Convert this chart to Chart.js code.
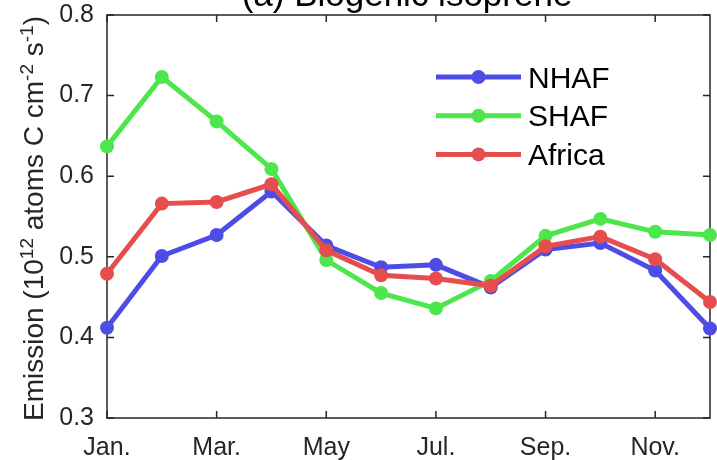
<!DOCTYPE html>
<html>
<head>
<meta charset="utf-8">
<script src="https://cdn.jsdelivr.net/npm/chart.js@4"></script>
<style>
  html, body { margin: 0; padding: 0; background: #fff; }
  #wrap { width: 717px; height: 460px; position: relative; }
</style>
</head>
<body>
<div id="wrap"><canvas id="c" width="717" height="460"></canvas></div>
<script>
const months = ['Jan.','Feb.','Mar.','Apr.','May','Jun.','Jul.','Aug.','Sep.','Oct.','Nov.','Dec.'];
const nhaf   = [0.412,0.501,0.527,0.581,0.514,0.487,0.490,0.462,0.509,0.517,0.483,0.411];
const shaf   = [0.637,0.723,0.668,0.609,0.496,0.455,0.436,0.470,0.526,0.547,0.531,0.527];
const africa = [0.479,0.566,0.568,0.590,0.508,0.477,0.473,0.464,0.513,0.525,0.497,0.444];
const yTicks = [0.3,0.4,0.5,0.6,0.7,0.8];
const seriesNames = ['NHAF','SHAF','Africa'];
const titleText = '(a) Biogenic isoprene';
const yTitleParts = [['Emission (10',0],['12',1],[' atoms C cm',0],['-2',1],[' s',0],['-1',1],[')',0]];

const colors = ['rgb(77,77,230)','rgb(77,230,77)','rgb(230,77,77)'];
const FONT = '"Liberation Sans", Arial, Helvetica, sans-serif';
const AX = '#262626';

const framePlugin = {
  id: 'frame',
  beforeDatasetsDraw(chart) {
    const {ctx, chartArea: a, scales} = chart;
    ctx.save();
    ctx.strokeStyle = AX;
    ctx.lineWidth = 1.5;
    ctx.strokeRect(a.left, a.top, a.right - a.left, a.bottom - a.top);
    const tl = 7;
    ctx.beginPath();
    months.forEach((m, i) => {
      if (i % 2 !== 0) return;
      const x = scales.x.getPixelForValue(i);
      ctx.moveTo(x, a.bottom); ctx.lineTo(x, a.bottom - tl);
      ctx.moveTo(x, a.top); ctx.lineTo(x, a.top + tl);
    });
    yTicks.forEach(v => {
      const y = scales.y.getPixelForValue(v);
      ctx.moveTo(a.left, y); ctx.lineTo(a.left + tl, y);
      ctx.moveTo(a.right, y); ctx.lineTo(a.right - tl, y);
    });
    ctx.stroke();
    ctx.restore();
  },
  afterDraw(chart) {
    const {ctx, chartArea: a} = chart;
    ctx.save();
    // title
    ctx.fillStyle = '#000';
    ctx.font = '35px ' + FONT;
    ctx.textAlign = 'center';
    ctx.textBaseline = 'alphabetic';
    ctx.fillText(titleText, 407, 6);
    // y axis title with superscripts
    const base = 28, sup = 19;
    let total = 0;
    yTitleParts.forEach(([t, s]) => { ctx.font = (s ? sup : base) + 'px ' + FONT; total += ctx.measureText(t).width; });
    ctx.translate(43, (a.top + a.bottom) / 2 + 2);
    ctx.rotate(-Math.PI / 2);
    ctx.fillStyle = AX;
    ctx.textAlign = 'left';
    let x = -total / 2;
    yTitleParts.forEach(([t, s]) => {
      ctx.font = (s ? sup : base) + 'px ' + FONT;
      ctx.fillText(t, x, s ? -10 : 0);
      x += ctx.measureText(t).width;
    });
    ctx.restore();
    // legend
    ctx.save();
    chart.data.datasets.forEach((ds, i) => {
      const y = 77 + i * 38.7;
      ctx.strokeStyle = ds.borderColor;
      ctx.lineWidth = 5;
      ctx.beginPath(); ctx.moveTo(436, y); ctx.lineTo(521, y); ctx.stroke();
      ctx.fillStyle = ds.borderColor;
      ctx.beginPath(); ctx.arc(478.5, y, 7, 0, Math.PI * 2); ctx.fill();
      ctx.fillStyle = '#000';
      ctx.font = '30px ' + FONT;
      ctx.textAlign = 'left';
      ctx.textBaseline = 'alphabetic';
      ctx.fillText(seriesNames[i], 528, y + 10.5);
    });
    ctx.restore();
  }
};

const seriesData = [nhaf, shaf, africa];
new Chart(document.getElementById('c'), {
  type: 'line',
  data: {
    labels: months,
    datasets: seriesData.map((d, i) => ({
      label: seriesNames[i],
      data: d,
      borderColor: colors[i],
      backgroundColor: colors[i],
      pointBackgroundColor: colors[i],
      pointBorderColor: colors[i],
      borderWidth: 5,
      pointRadius: 7,
      pointBorderWidth: 0,
      tension: 0,
      clip: false,
      order: 2 - i
    }))
  },
  options: {
    responsive: false,
    animation: false,
    devicePixelRatio: 1,
    layout: { padding: { top: 15, right: 2, left: 0, bottom: 0 } },
    plugins: { legend: { display: false }, title: { display: false }, tooltip: { enabled: false } },
    scales: {
      x: {
        type: 'category',
        offset: false,
        grid: { display: false, drawTicks: false },
        border: { display: false },
        ticks: {
          autoSkip: false, maxRotation: 0, minRotation: 0,
          color: AX, font: { family: FONT, size: 25 }, padding: 15,
          callback: (v, i) => (i % 2 === 0 ? months[i] : '')
        },
        afterFit: s => { s.height = 42; s.paddingLeft = 0; s.paddingRight = 0; }
      },
      y: {
        min: 0.3, max: 0.8,
        grid: { display: false, drawTicks: false },
        border: { display: false },
        afterBuildTicks: s => { s.ticks = yTicks.map(v => ({ value: v })); },
        ticks: {
          color: AX, font: { family: FONT, size: 25 }, padding: 13,
          callback: v => Number(v).toFixed(1)
        },
        afterFit: s => { s.width = 107; s.paddingTop = 0; s.paddingBottom = 0; }
      }
    }
  },
  plugins: [framePlugin]
});
</script>
</body>
</html>
